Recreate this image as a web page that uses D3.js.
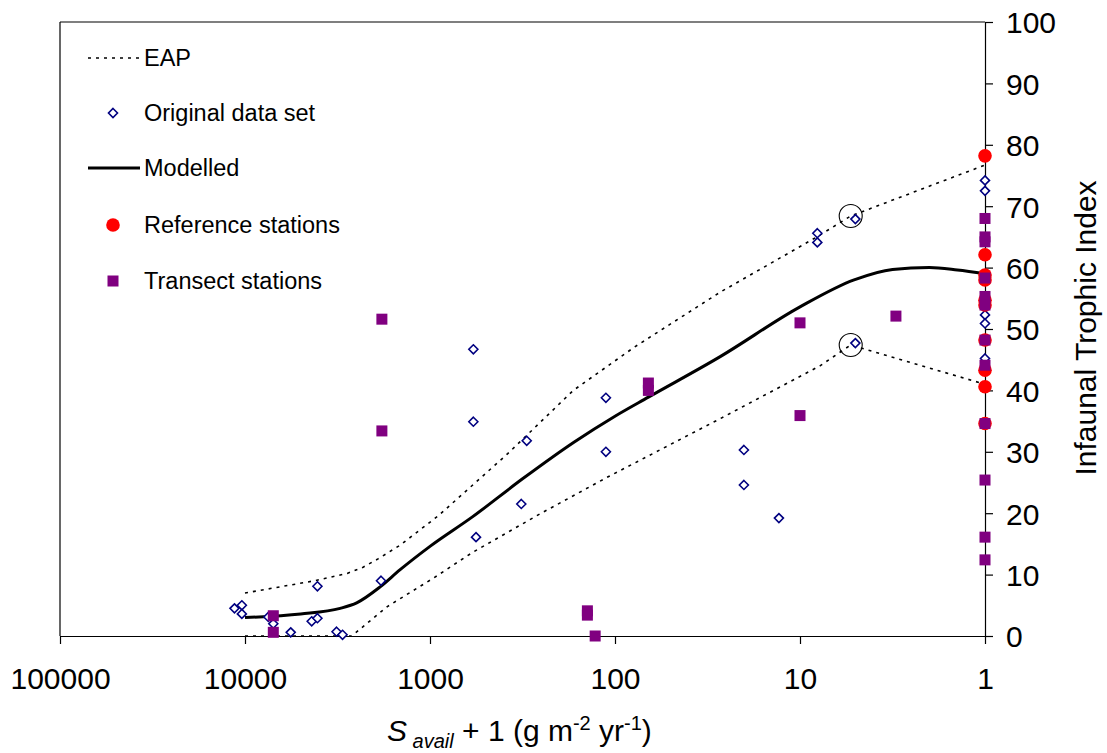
<!DOCTYPE html>
<html>
<head>
<meta charset="utf-8">
<script src="https://cdn.jsdelivr.net/npm/d3@7"></script>
<style>
  html, body { margin: 0; padding: 0; background: #fff; }
  svg { display: block; font-family: "Liberation Sans", Arial, Helvetica, sans-serif; }
</style>
</head>
<body>
<svg id="chart" width="1107" height="753"></svg>
<script>
// Axis ticks
const xTickValues = [100000, 10000, 1000, 100, 10, 1];
const yTickValues = [0, 10, 20, 30, 40, 50, 60, 70, 80, 90, 100];

// Original data set (open diamonds)
const originalX = [11400, 10400, 10400, 7480, 7030, 5660, 4360, 4060, 4060, 3200, 2970, 1840,
                   583, 583, 564, 321, 300, 112, 112, 20.1, 20.1, 13, 8.06, 8.06, 5.02, 5.02,
                   1, 1, 1, 1, 1];
const originalY = [4.5, 5.0, 3.6, 3.1, 2.0, 0.6, 2.4, 2.9, 8.1, 0.7, 0.2, 9.0,
                   46.7, 34.9, 16.1, 21.5, 31.8, 38.8, 30.0, 30.3, 24.6, 19.2, 65.6, 64.1, 67.9, 47.7,
                   74.2, 72.5, 52.3, 50.9, 45.2];

// Reference stations (red dots)
const referenceX = [1, 1, 1, 1, 1, 1, 1, 1, 1, 1];
const referenceY = [78.2, 62.1, 58.8, 58.0, 54.7, 53.9, 48.2, 43.3, 40.6, 34.6];

// Transect stations (purple squares)
const transectX = [1820, 1820, 7030, 7030, 141, 141, 128, 66, 66, 10, 10, 3.03,
                   1, 1, 1, 1, 1, 1, 1, 1, 1, 1, 1, 1];
const transectY = [51.6, 33.4, 3.3, 0.6, 3.4, 4.1, 0, 41.2, 40.0, 51.0, 35.9, 52.1,
                   68.0, 65.0, 64.2, 58.3, 55.3, 53.9, 48.2, 44.1, 34.6, 25.4, 16.1, 12.4];

// Modelled response
const modelledX = [10000, 5000, 3060, 2490, 1860, 1450, 1000, 590, 316, 166, 100, 66, 27, 10, 5.1, 3.16, 2.0, 1.41, 1];
const modelledY = [3.0, 3.6, 4.5, 5.4, 8.0, 10.8, 14.6, 19.4, 25.6, 31.6, 35.8, 38.9, 45.5, 53.6, 58.0, 59.7, 60.0, 59.6, 59.0];

// EAP envelope, upper and lower
const eapUpperX = [10000, 4200, 2800, 2300, 1900, 1450, 900, 380, 168, 79, 27, 8.1, 5.32, 1];
const eapUpperY = [7.0, 9.0, 10.2, 11.2, 12.6, 14.8, 19.6, 29.7, 40.0, 47.0, 56.0, 65.0, 68.4, 76.7];
const eapLowerX = [10000, 2650, 1700, 950, 590, 254, 111, 27, 7.8, 5.32, 1];
const eapLowerY = [0, 0, 4.8, 9.5, 13.6, 19.9, 25.8, 35.4, 44.0, 47.4, 41.0];

// Ringed envelope break points
const ringX = [5.32, 5.32];
const ringY = [68.4, 47.4];

const legendLabels = ["EAP", "Original data set", "Modelled", "Reference stations", "Transect stations"];

const COL_DIAMOND = "#000080";
const COL_REF = "#ff0000";
const COL_TRANSECT = "#800080";

const svg = d3.select("#chart");

const x = d3.scaleLog().domain([100000, 1]).range([60, 985]);
const y = d3.scaleLinear().domain([0, 100]).range([636, 22]);

const zip = (xs, ys) => xs.map((v, i) => [v, ys[i]]);

// Frame (top and left edges)
svg.append("line").attr("x1", x(100000)).attr("x2", x(1)).attr("y1", y(100)).attr("y2", y(100))
  .attr("stroke", "#000").attr("stroke-width", 1.2);
svg.append("line").attr("x1", x(100000)).attr("x2", x(100000)).attr("y1", y(100)).attr("y2", y(0))
  .attr("stroke", "#000").attr("stroke-width", 1.2);

// X axis
const xAxis = svg.append("g")
  .attr("transform", `translate(0,${y(0)})`)
  .call(d3.axisBottom(x).tickValues(xTickValues).tickFormat(d3.format("d")).tickSize(8).tickSizeOuter(0));
xAxis.selectAll("path, line").attr("stroke", "#000").attr("stroke-width", 1.2);
xAxis.selectAll("text").attr("y", 53).attr("dy", null)
  .attr("font-size", 30).attr("fill", "#000").attr("font-family", null);

// Y axis on the right
const yAxis = svg.append("g")
  .attr("transform", `translate(${x(1)},0)`)
  .call(d3.axisRight(y).tickValues(yTickValues).tickSize(8).tickSizeOuter(0));
yAxis.selectAll("path, line").attr("stroke", "#000").attr("stroke-width", 1.2);
yAxis.selectAll("text").attr("x", 21).attr("dy", "0.36em")
  .attr("font-size", 30).attr("fill", "#000").attr("font-family", null);

// Axis titles
const xt = svg.append("text")
  .attr("x", 387).attr("y", 741)
  .attr("text-anchor", "start").attr("font-size", 30).attr("fill", "#000");
xt.append("tspan").attr("font-style", "italic").text("S");
xt.append("tspan").attr("font-style", "italic").attr("font-size", 20).attr("dy", 7).text(" avail");
xt.append("tspan").attr("dy", -7).text(" + 1 (g m");
xt.append("tspan").attr("font-size", 20).attr("dy", -11).text("-2");
xt.append("tspan").attr("dy", 11).text(" yr");
xt.append("tspan").attr("font-size", 20).attr("dy", -11).text("-1");
xt.append("tspan").attr("dy", 11).text(")");

svg.append("text")
  .attr("transform", "translate(1096,328) rotate(-90)")
  .attr("text-anchor", "middle")
  .attr("font-size", 30).attr("fill", "#000")
  .text("Infaunal Trophic Index");

// Lines
const lineGen = d3.line().x(d => x(d[0])).y(d => y(d[1]));
const smoothGen = d3.line().x(d => x(d[0])).y(d => y(d[1])).curve(d3.curveMonotoneX);

const eapStyle = p => p.attr("fill", "none").attr("stroke", "#000").attr("stroke-width", 1.6)
  .attr("stroke-dasharray", "3,5");
svg.append("path").attr("d", lineGen(zip(eapUpperX, eapUpperY))).call(eapStyle);
svg.append("path").attr("d", lineGen(zip(eapLowerX, eapLowerY))).call(eapStyle);

svg.append("path").attr("d", smoothGen(zip(modelledX, modelledY)))
  .attr("fill", "none").attr("stroke", "#000").attr("stroke-width", 3);

// Marker shapes
const diamondPath = "M0,-4.5L4.5,0L0,4.5L-4.5,0Z";

svg.append("g").selectAll("path").data(zip(originalX, originalY)).join("path")
  .attr("d", diamondPath)
  .attr("transform", d => `translate(${x(d[0])},${y(d[1])})`)
  .attr("fill", "#fff").attr("stroke", COL_DIAMOND).attr("stroke-width", 1.6);

svg.append("g").selectAll("circle").data(zip(ringX, ringY)).join("circle")
  .attr("cx", d => x(d[0])).attr("cy", d => y(d[1])).attr("r", 11.5)
  .attr("fill", "none").attr("stroke", "#000").attr("stroke-width", 1.1);

svg.append("g").selectAll("circle").data(zip(referenceX, referenceY)).join("circle")
  .attr("cx", d => x(d[0])).attr("cy", d => y(d[1])).attr("r", 6.8)
  .attr("fill", COL_REF);

svg.append("g").selectAll("rect").data(zip(transectX, transectY)).join("rect")
  .attr("x", d => x(d[0]) - 5.5).attr("y", d => y(d[1]) - 5.5)
  .attr("width", 11).attr("height", 11)
  .attr("fill", COL_TRANSECT);

// Legend
const lg = svg.append("g").attr("font-size", 23.5).attr("fill", "#000");
const rowY = [58, 113, 168, 225, 281];
legendLabels.forEach((lab, i) => {
  const cy = rowY[i];
  if (i === 0 || i === 2) {
    lg.append("line").attr("x1", 88).attr("x2", 140).attr("y1", cy).attr("y2", cy)
      .attr("stroke", "#000")
      .attr("stroke-width", i === 0 ? 1.6 : 3)
      .attr("stroke-dasharray", i === 0 ? "3,5" : null);
  } else if (i === 1) {
    lg.append("path").attr("d", diamondPath).attr("transform", `translate(113,${cy})`)
      .attr("fill", "#fff").attr("stroke", COL_DIAMOND).attr("stroke-width", 1.6);
  } else if (i === 3) {
    lg.append("circle").attr("cx", 113).attr("cy", cy).attr("r", 6.8).attr("fill", COL_REF);
  } else {
    lg.append("rect").attr("x", 113 - 5.5).attr("y", cy - 5.5).attr("width", 11).attr("height", 11)
      .attr("fill", COL_TRANSECT);
  }
  lg.append("text").attr("x", 144).attr("y", cy).attr("dy", "0.36em").text(lab);
});
</script>
</body>
</html>
